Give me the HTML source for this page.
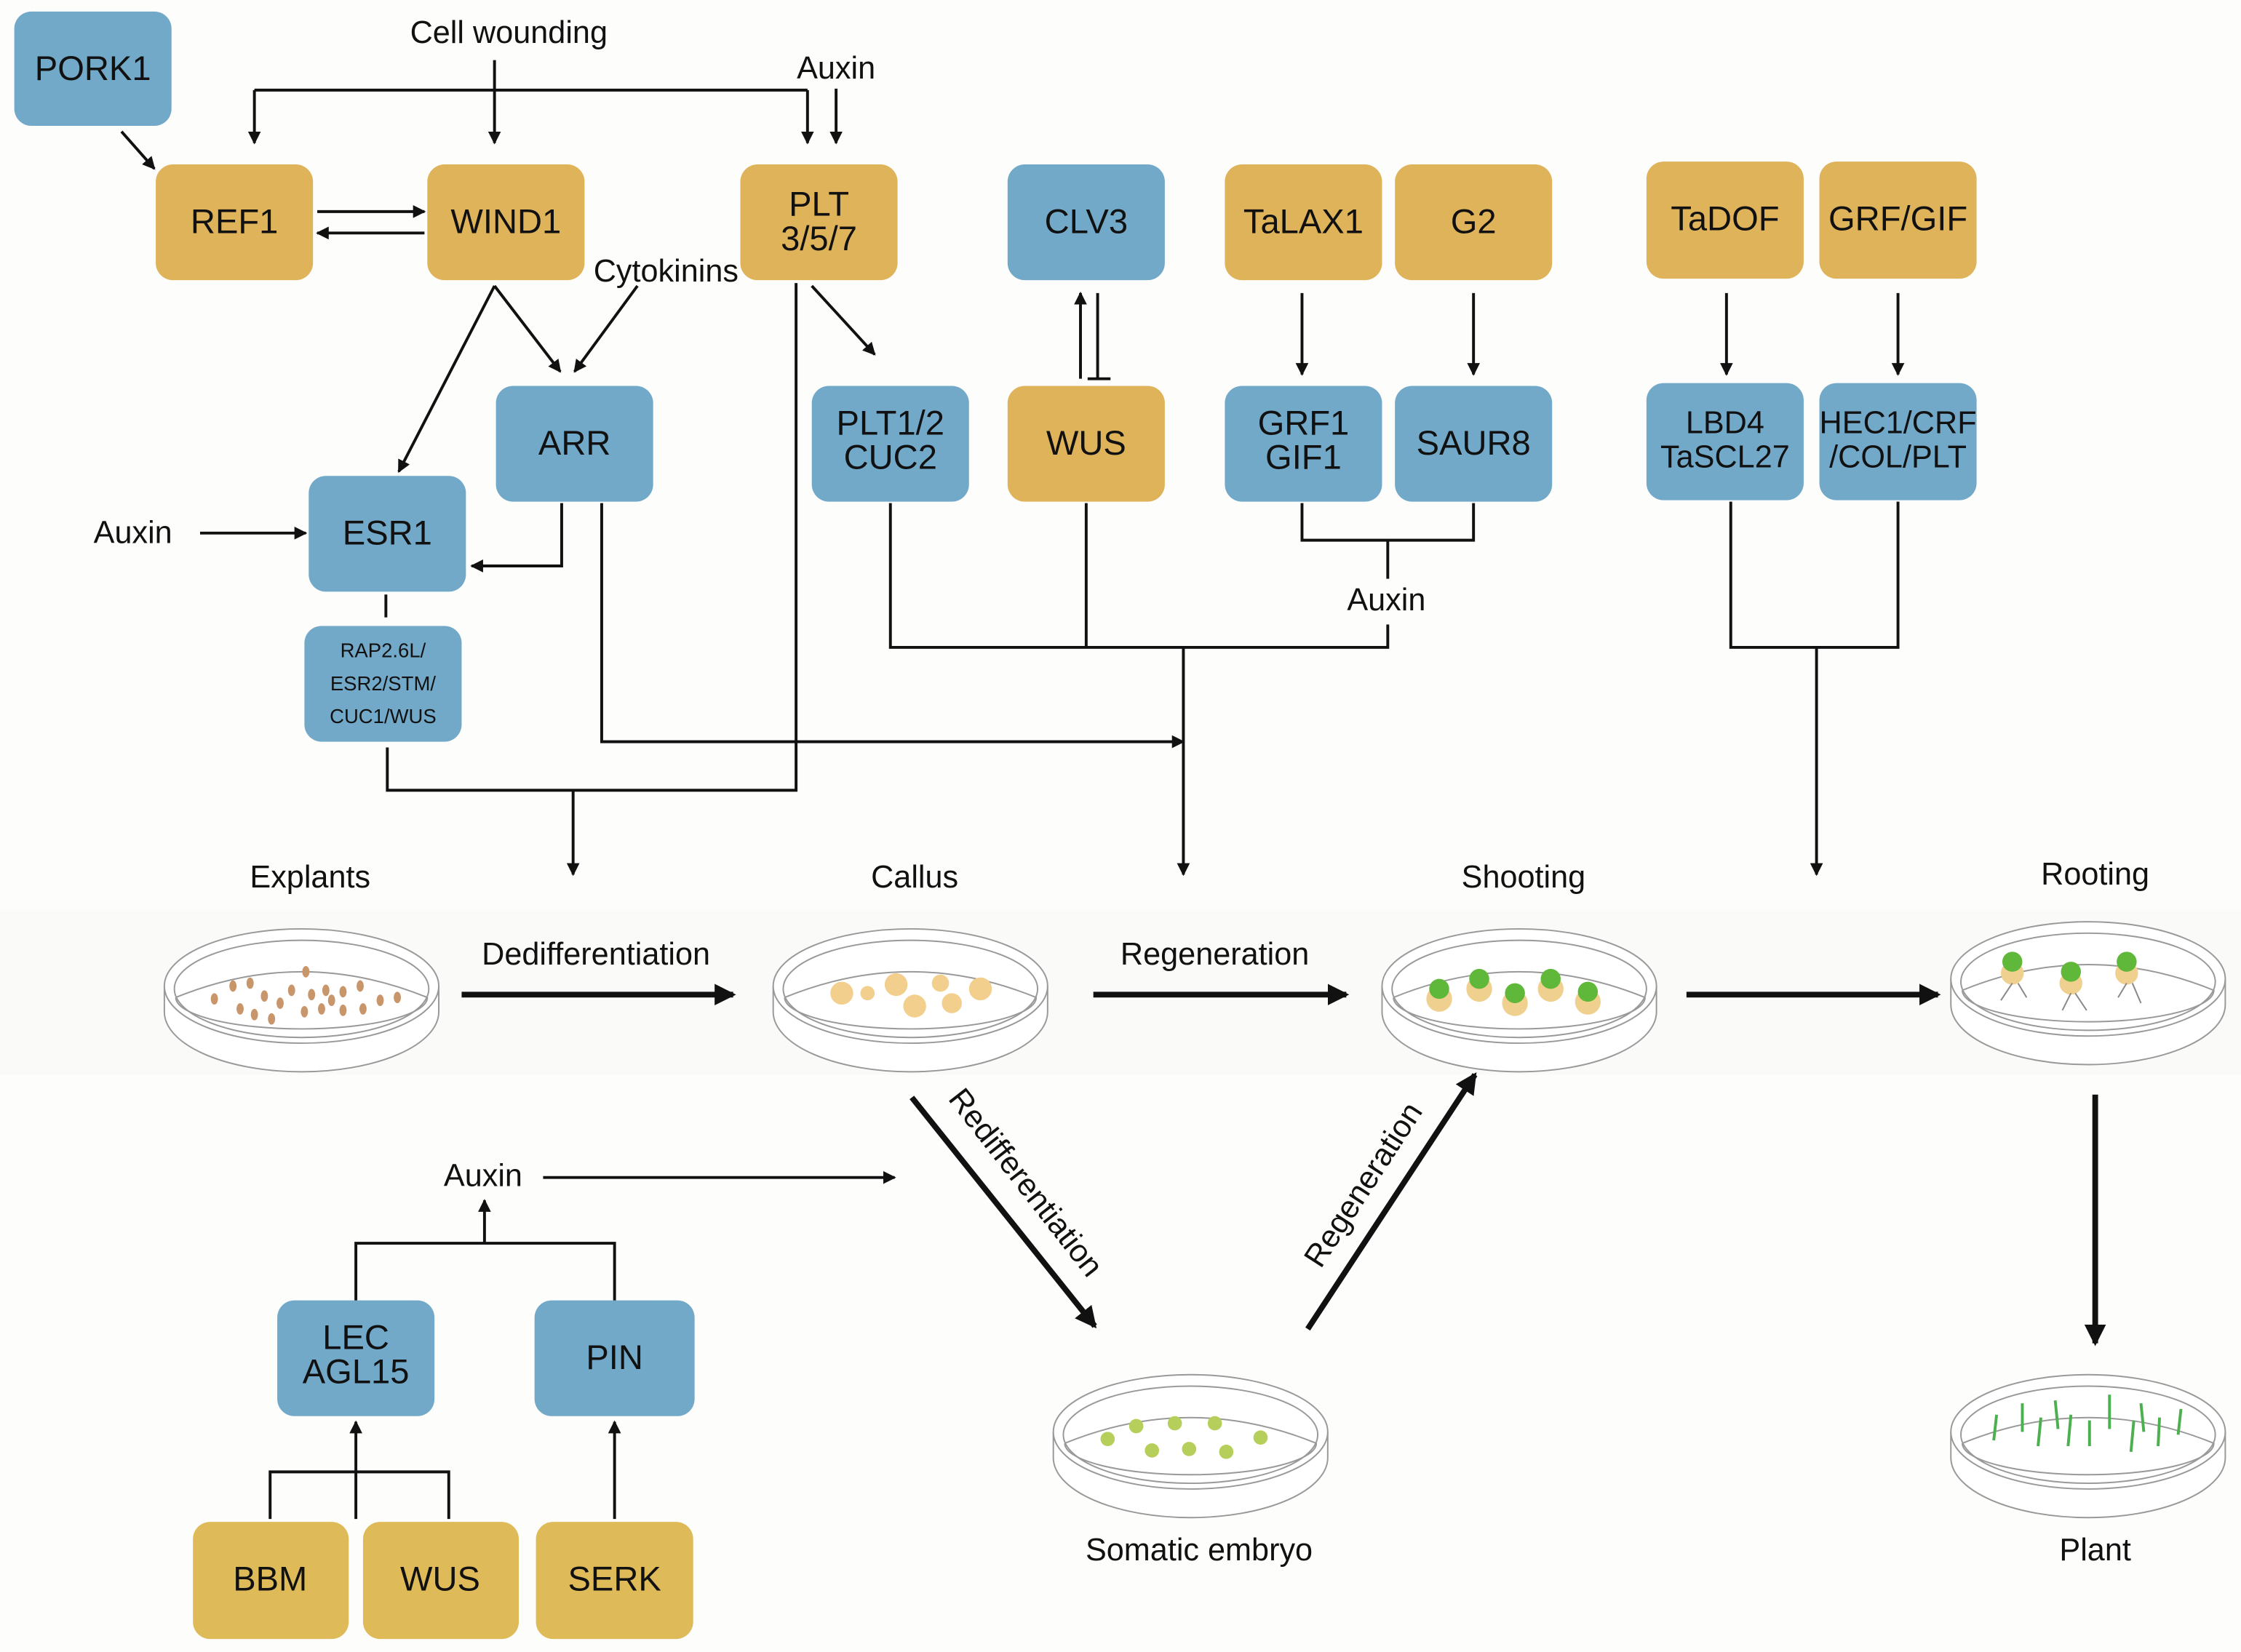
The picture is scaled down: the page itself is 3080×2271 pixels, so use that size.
<!DOCTYPE html>
<html><head><meta charset="utf-8"><style>
html,body{margin:0;padding:0;background:#fdfdfc;}
svg{display:block;}
text{font-family:"Liberation Sans",sans-serif;fill:#111;}
</style></head><body>
<svg width="3080" height="2271" viewBox="0 0 1568 1156" xmlns="http://www.w3.org/2000/svg">
<defs>
<marker id="a" markerWidth="9" markerHeight="9" refX="8" refY="4.5" orient="auto" markerUnits="userSpaceOnUse" viewBox="0 0 9 9"><path d="M0,0 L9,4.5 L0,9 z" fill="#111"/></marker>
<marker id="b" markerWidth="15" markerHeight="15" refX="13" refY="7.5" orient="auto" markerUnits="userSpaceOnUse" viewBox="0 0 15 15"><path d="M0,0 L15,7.5 L0,15 z" fill="#111"/></marker>
<g id="dish">
<path d="M-96,0 L-96,18 A96,42 0 0 0 96,18 L96,0" fill="#fff" stroke="#999" stroke-width="1"/>
<ellipse cx="0" cy="0" rx="96" ry="40" fill="#fff" stroke="#999" stroke-width="1"/>
<ellipse cx="0" cy="2" rx="89" ry="34" fill="none" stroke="#999" stroke-width="1"/>
<path d="M-88,8 Q0,-28 88,8 A88,22 0 0 1 -88,8" fill="none" stroke="#999" stroke-width="1"/>
</g>
</defs>
<rect width="1568" height="1156" fill="#fdfdfc"/>
<rect x="0" y="637" width="1568" height="115" fill="#fafaf9"/>

<g font-size="24" text-anchor="middle">
<g fill="#dfb35a">
<rect x="109" y="115" width="110" height="81" rx="12"/>
<rect x="299" y="115" width="110" height="81" rx="12"/>
<rect x="518" y="115" width="110" height="81" rx="12"/>
<rect x="857" y="115" width="110" height="81" rx="12"/>
<rect x="976" y="115" width="110" height="81" rx="12"/>
<rect x="1152" y="113" width="110" height="82" rx="12"/>
<rect x="1273" y="113" width="110" height="82" rx="12"/>
<rect x="705" y="270" width="110" height="81" rx="12"/>
</g>
<g fill="#debb58">
<rect x="135" y="1065" width="109" height="82" rx="12"/>
<rect x="254" y="1065" width="109" height="82" rx="12"/>
<rect x="375" y="1065" width="110" height="82" rx="12"/>
</g>
<g fill="#72a9c9">
<rect x="10" y="8" width="110" height="80" rx="12"/>
<rect x="705" y="115" width="110" height="81" rx="12"/>
<rect x="347" y="270" width="110" height="81" rx="12"/>
<rect x="216" y="333" width="110" height="81" rx="12"/>
<rect x="213" y="438" width="110" height="81" rx="12"/>
<rect x="568" y="270" width="110" height="81" rx="12"/>
<rect x="857" y="270" width="110" height="81" rx="12"/>
<rect x="976" y="270" width="110" height="81" rx="12"/>
<rect x="1152" y="268" width="110" height="82" rx="12"/>
<rect x="1273" y="268" width="110" height="82" rx="12"/>
<rect x="194" y="910" width="110" height="81" rx="12"/>
<rect x="374" y="910" width="112" height="81" rx="12"/>
</g>
<text x="65" y="56">PORK1</text>
<text x="164" y="163">REF1</text>
<text x="354" y="163">WIND1</text>
<text x="573" y="151">PLT</text>
<text x="573" y="175">3/5/7</text>
<text x="760" y="163">CLV3</text>
<text x="912" y="163">TaLAX1</text>
<text x="1031" y="163">G2</text>
<text x="1207" y="161">TaDOF</text>
<text x="1328" y="161">GRF/GIF</text>
<text x="402" y="318">ARR</text>
<text x="271" y="381">ESR1</text>
<text x="623" y="304">PLT1/2</text>
<text x="623" y="328">CUC2</text>
<text x="760" y="318">WUS</text>
<text x="912" y="304">GRF1</text>
<text x="912" y="328">GIF1</text>
<text x="1031" y="318">SAUR8</text>
<text x="1207" y="303" font-size="22">LBD4</text>
<text x="1207" y="327" font-size="22">TaSCL27</text>
<text x="1328" y="303" font-size="22">HEC1/CRF</text>
<text x="1328" y="327" font-size="22">/COL/PLT</text>
<g font-size="14"><text x="268" y="460">RAP2.6L/</text><text x="268" y="483">ESR2/STM/</text><text x="268" y="506">CUC1/WUS</text></g>
<text x="249" y="944">LEC</text>
<text x="249" y="968">AGL15</text>
<text x="430" y="958">PIN</text>
<text x="189" y="1113">BBM</text>
<text x="308" y="1113">WUS</text>
<text x="430" y="1113">SERK</text>
</g>

<g font-size="22" text-anchor="middle">
<text x="356" y="30">Cell wounding</text>
<text x="585" y="55">Auxin</text>
<text x="466" y="197">Cytokinins</text>
<text x="93" y="380">Auxin</text>
<text x="970" y="427">Auxin</text>
<text x="217" y="621">Explants</text>
<text x="640" y="621">Callus</text>
<text x="1066" y="621">Shooting</text>
<text x="1466" y="619">Rooting</text>
<text x="417" y="675">Dedifferentiation</text>
<text x="850" y="675">Regeneration</text>
<text x="338" y="830">Auxin</text>
<text x="839" y="1092">Somatic embryo</text>
<text x="1466" y="1092">Plant</text>
<text transform="translate(712,832) rotate(52)">Redifferentiation</text>
<text transform="translate(960,833) rotate(-57)">Regeneration</text>
</g>

<g stroke="#111" stroke-width="2" fill="none">
<path d="M178,63 L565,63"/>
<path d="M178,63 L178,100" marker-end="url(#a)"/>
<path d="M346,42 L346,100" marker-end="url(#a)"/>
<path d="M565,63 L565,100" marker-end="url(#a)"/>
<path d="M585,62 L585,100" marker-end="url(#a)"/>
<path d="M85,92 L108,118" marker-end="url(#a)"/>
<path d="M222,148 L297,148" marker-end="url(#a)"/>
<path d="M297,163 L222,163" marker-end="url(#a)"/>
<path d="M346,200 L392,260" marker-end="url(#a)"/>
<path d="M446,200 L402,260" marker-end="url(#a)"/>
<path d="M346,200 L279,330" marker-end="url(#a)"/>
<path d="M568,200 L612,248" marker-end="url(#a)"/>
<path d="M557,198 L557,553 L271,553 L271,523"/>
<path d="M401,553 L401,612" marker-end="url(#a)"/>
<path d="M270,416 L270,432"/>
<path d="M140,373 L214,373" marker-end="url(#a)"/>
<path d="M393,352 L393,396 L330,396" marker-end="url(#a)"/>
<path d="M421,352 L421,519 L828,519" marker-end="url(#a)"/>
<path d="M623,352 L623,453 L971,453 L971,437"/>
<path d="M760,352 L760,453"/>
<path d="M911,352 L911,378 L1031,378 L1031,352"/>
<path d="M971,378 L971,405"/>
<path d="M828,453 L828,612" marker-end="url(#a)"/>
<path d="M756,265 L756,205" marker-end="url(#a)"/>
<path d="M768,205 L768,265 M761,265 L777,265"/>
<path d="M911,205 L911,262" marker-end="url(#a)"/>
<path d="M1031,205 L1031,262" marker-end="url(#a)"/>
<path d="M1208,205 L1208,262" marker-end="url(#a)"/>
<path d="M1328,205 L1328,262" marker-end="url(#a)"/>
<path d="M1211,351 L1211,453 L1328,453 L1328,351"/>
<path d="M1271,453 L1271,612" marker-end="url(#a)"/>
<path d="M380,824 L626,824" marker-end="url(#a)"/>
<path d="M339,870 L339,840" marker-end="url(#a)"/>
<path d="M249,910 L249,870 L430,870 L430,910"/>
<path d="M249,1063 L249,995" marker-end="url(#a)"/>
<path d="M189,1063 L189,1030 L314,1030 L314,1063"/>
<path d="M430,1063 L430,995" marker-end="url(#a)"/>
</g>
<g stroke="#111" stroke-width="4" fill="none">
<path d="M323,696 L513,696" marker-end="url(#b)"/>
<path d="M765,696 L942,696" marker-end="url(#b)"/>
<path d="M1180,696 L1356,696" marker-end="url(#b)"/>
<path d="M638,768 L766,928" marker-end="url(#b)"/>
<path d="M915,930 L1032,752" marker-end="url(#b)"/>
<path d="M1466,766 L1466,940" marker-end="url(#b)"/>
</g>

<use href="#dish" x="211" y="690"/>
<use href="#dish" x="637" y="690"/>
<use href="#dish" x="1063" y="690"/>
<use href="#dish" x="1461" y="685"/>
<use href="#dish" x="833" y="1002"/>
<use href="#dish" x="1461" y="1002"/>

<g fill="#c9956a">
<ellipse cx="150" cy="699" rx="2.5" ry="4"/><ellipse cx="163" cy="690" rx="2.5" ry="4"/><ellipse cx="175" cy="688" rx="2.5" ry="4"/><ellipse cx="185" cy="697" rx="2.5" ry="4"/><ellipse cx="168" cy="706" rx="2.5" ry="4"/><ellipse cx="178" cy="710" rx="2.5" ry="4"/><ellipse cx="196" cy="702" rx="2.5" ry="4"/><ellipse cx="204" cy="693" rx="2.5" ry="4"/><ellipse cx="214" cy="680" rx="2.5" ry="4"/><ellipse cx="218" cy="696" rx="2.5" ry="4"/><ellipse cx="228" cy="693" rx="2.5" ry="4"/><ellipse cx="213" cy="708" rx="2.5" ry="4"/><ellipse cx="225" cy="706" rx="2.5" ry="4"/><ellipse cx="240" cy="694" rx="2.5" ry="4"/><ellipse cx="252" cy="690" rx="2.5" ry="4"/><ellipse cx="240" cy="707" rx="2.5" ry="4"/><ellipse cx="254" cy="706" rx="2.5" ry="4"/><ellipse cx="266" cy="700" rx="2.5" ry="4"/><ellipse cx="278" cy="698" rx="2.5" ry="4"/><ellipse cx="190" cy="713" rx="2.5" ry="4"/><ellipse cx="232" cy="700" rx="2.5" ry="4"/>
</g>
<g fill="#f2cf8c">
<circle cx="589" cy="695" r="8"/><circle cx="607" cy="695" r="5"/><circle cx="627" cy="689" r="8"/><circle cx="658" cy="688" r="6"/><circle cx="640" cy="704" r="8"/><circle cx="666" cy="702" r="7"/><circle cx="686" cy="692" r="8"/>
</g>
<g>
<g fill="#f0d08e"><circle cx="1007" cy="699" r="9"/><circle cx="1035" cy="692" r="9"/><circle cx="1060" cy="702" r="9"/><circle cx="1085" cy="692" r="9"/><circle cx="1111" cy="701" r="9"/></g>
<g fill="#5fb83a"><circle cx="1007" cy="692" r="7"/><circle cx="1035" cy="685" r="7"/><circle cx="1060" cy="695" r="7"/><circle cx="1085" cy="685" r="7"/><circle cx="1111" cy="694" r="7"/></g>
<g fill="#f0d08e"><circle cx="1408" cy="681" r="8"/><circle cx="1449" cy="688" r="8"/><circle cx="1488" cy="681" r="8"/></g>
<g fill="#5fb83a"><circle cx="1408" cy="673" r="7"/><circle cx="1449" cy="680" r="7"/><circle cx="1488" cy="673" r="7"/></g>
<g stroke="#888" stroke-width="1" fill="none"><path d="M1408,688 l-8,12 M1412,688 l6,10 M1449,695 l-6,12 M1452,695 l8,12 M1488,688 l-6,10 M1492,688 l6,14"/></g>
<g fill="#b6cf5a"><circle cx="775" cy="1007" r="5"/><circle cx="795" cy="998" r="5"/><circle cx="822" cy="996" r="5"/><circle cx="850" cy="996" r="5"/><circle cx="882" cy="1006" r="5"/><circle cx="806" cy="1015" r="5"/><circle cx="832" cy="1014" r="5"/><circle cx="858" cy="1016" r="5"/></g>
<g stroke="#4caf50" stroke-width="2"><path d="M1395,1008 l2,-18 M1415,1002 l0,-20 M1426,1012 l2,-20 M1440,1000 l-2,-20 M1447,1012 l2,-22 M1476,1000 l0,-24 M1491,1016 l2,-22 M1500,1002 l-2,-20 M1510,1012 l1,-20 M1524,1004 l2,-18 M1462,1012 l0,-18"/></g>
</g>
</svg>
</body></html>
